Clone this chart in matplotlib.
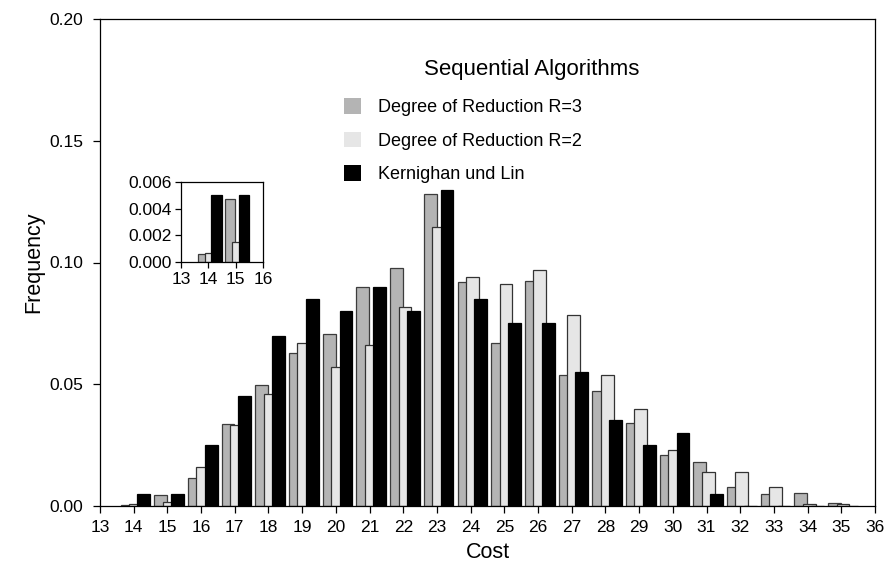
import matplotlib
matplotlib.use("Agg")
import matplotlib.pyplot as plt
from matplotlib.patches import Patch
from matplotlib.ticker import FormatStrFormatter
import numpy as np

plt.rcParams['font.family'] = ['Liberation Sans', 'DejaVu Sans']

# Cost values and relative frequencies of the three partitioning methods
cost = [14, 15, 16, 17, 18, 19, 20, 21, 22, 23, 24,
        25, 26, 27, 28, 29, 30, 31, 32, 33, 34, 35]
freq_r3 = [0.0006, 0.0047, 0.0114, 0.0336, 0.0498, 0.0629, 0.0707, 0.0898,
           0.0976, 0.1281, 0.0921, 0.0671, 0.0922, 0.0540, 0.0474, 0.0341,
           0.0210, 0.0179, 0.0078, 0.0048, 0.0055, 0.0012]
freq_r2 = [0.0007, 0.0015, 0.0161, 0.0331, 0.0461, 0.0670, 0.0570, 0.0662,
           0.0817, 0.1145, 0.0939, 0.0910, 0.0971, 0.0786, 0.0540, 0.0400,
           0.0230, 0.0138, 0.0138, 0.0076, 0.0008, 0.0007]
freq_kl = [0.0050, 0.0050, 0.0251, 0.0451, 0.0700, 0.0850, 0.0799, 0.0899,
           0.0799, 0.1299, 0.0851, 0.0751, 0.0751, 0.0551, 0.0352, 0.0251,
           0.0300, 0.0051, 0.0, 0.0, 0.0, 0.0]

series_labels = ["Degree of Reduction R=3", "Degree of Reduction R=2",
                 "Kernighan und Lin"]
legend_title = "Sequential Algorithms"

# the inset magnifies the low-cost tail
inset_max_cost = 15

colors = ["#b4b4b4", "#e6e6e6", "#000000"]
edges = ["#3c3c3c", "#333333", "#000000"]
offsets = [-0.20, 0.05, 0.30]
width = 0.38

x = np.array(cost, dtype=float)
series = [np.array(s) for s in (freq_r3, freq_r2, freq_kl)]

fig = plt.figure(figsize=(8.89, 5.68), dpi=100)
ax = fig.add_axes([100 / 889, 1 - 506 / 568, 775 / 889, 487 / 568])


def draw_bars(axis, mask):
    for vals, off, c, ec in zip(series, offsets, colors, edges):
        axis.bar(x[mask] + off, vals[mask], width=width, color=c,
                 edgecolor=ec, linewidth=0.9, zorder=2)


draw_bars(ax, np.ones(len(x), dtype=bool))
ax.set_xlim(13, 36)
ax.set_ylim(0, 0.20)
ax.set_xticks(range(13, 37))
ax.set_yticks([0.0, 0.05, 0.10, 0.15, 0.20])
ax.yaxis.set_major_formatter(FormatStrFormatter('%.2f'))
ax.tick_params(direction='out', length=5, width=0.9, labelsize=12.5,
               pad=5)
ax.tick_params(axis='y', pad=7)
for s in ax.spines.values():
    s.set_linewidth(0.9)
ax.set_xlabel("Cost", fontsize=15.5, labelpad=5)
ax.set_ylabel("Frequency", fontsize=15.5, labelpad=4)

# legend entries and heading
handles = [Patch(facecolor=c, edgecolor='none') for c in colors]
leg = ax.legend(handles, series_labels, loc='upper left',
                bbox_to_anchor=((344 - 100) / 775, (506 - 98) / 487),
                frameon=False, fontsize=13, borderpad=0, borderaxespad=0,
                handlelength=0.95, handleheight=0.95, handletextpad=0.95,
                labelspacing=0.86)
ax.text((532 - 100) / 775, (506 - 69) / 487, legend_title,
        transform=ax.transAxes, ha='center', va='center', fontsize=16)

# zoomed view of the low-cost tail
axin = fig.add_axes([181 / 889, 1 - 262 / 568, 82 / 889, 80 / 568])
draw_bars(axin, x <= inset_max_cost)
axin.set_xlim(13, 16)
axin.set_ylim(0, 0.006)
axin.set_xticks([13, 14, 15, 16])
axin.set_yticks([0.0, 0.002, 0.004, 0.006])
axin.yaxis.set_major_formatter(FormatStrFormatter('%.3f'))
axin.tick_params(direction='out', length=4, width=0.9, labelsize=12.5,
                 pad=3)
for s in axin.spines.values():
    s.set_linewidth(0.9)

fig.savefig("out.png", dpi=100)
